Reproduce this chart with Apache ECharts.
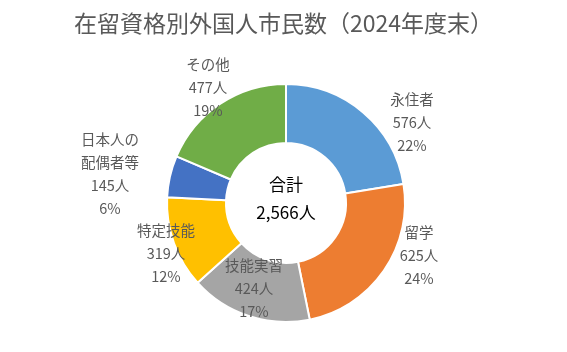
<!DOCTYPE html>
<html><head><meta charset="utf-8">
<script src="https://cdn.jsdelivr.net/npm/echarts@6/dist/echarts.min.js"></script>
<style>html,body{margin:0;padding:0;background:#fff}#c{width:567px;height:352px}</style>
</head><body><div id="c"></div>
<script>
const categories = ['永住者', '留学', '技能実習', '特定技能', '日本人の配偶者等', 'その他'];
const values = [576, 625, 424, 319, 145, 477];
const colors = ['#5B9BD5', '#ED7D31', '#A5A5A5', '#FFC000', '#4472C4', '#70AD47'];
// label centre positions (px) for each slice's label block
const labelPos = [[412, 122], [419, 255], [254, 288], [166, 253], [110, 174], [208, 87]];

const total = values.reduce((a, b) => a + b, 0);
const font = '"Noto Sans CJK JP", "Noto Sans", sans-serif';
const chart = echarts.init(document.getElementById('c'));
chart.setOption({
  animation: false,
  title: {
    text: '在留資格別外国人市民数（2024年度末）',
    left: 'center', top: 7,
    textStyle: { fontFamily: font, fontSize: 23, fontWeight: 'normal', color: '#595959' }
  },
  graphic: [{
    type: 'text',
    style: {
      text: '合計\n' + total.toLocaleString('en-US') + '人',
      x: 286, y: 199, align: 'center', verticalAlign: 'middle',
      font: '17px ' + font, fill: '#000', lineHeight: 28
    }
  }],
  series: [{
    type: 'pie',
    center: [286, 203],
    radius: [60, 119],
    startAngle: 90,
    percentPrecision: 0,
    itemStyle: { borderColor: '#fff', borderWidth: 2 },
    label: {
      show: true, position: 'outside',
      fontFamily: font, fontSize: 14.5, color: '#595959', lineHeight: 23,
      align: 'center',
      formatter: p => {
        const n = p.name.length > 4 ? p.name.slice(0, 4) + '\n' + p.name.slice(4) : p.name;
        return n + '\n' + p.value + '人\n' + p.percent + '%';
      }
    },
    labelLine: { show: false },
    labelLayout: p => ({ x: labelPos[p.dataIndex][0], y: labelPos[p.dataIndex][1], align: 'center', verticalAlign: 'middle' }),
    data: categories.map((c, i) => ({ name: c, value: values[i], itemStyle: { color: colors[i] } }))
  }]
});
</script></body></html>
